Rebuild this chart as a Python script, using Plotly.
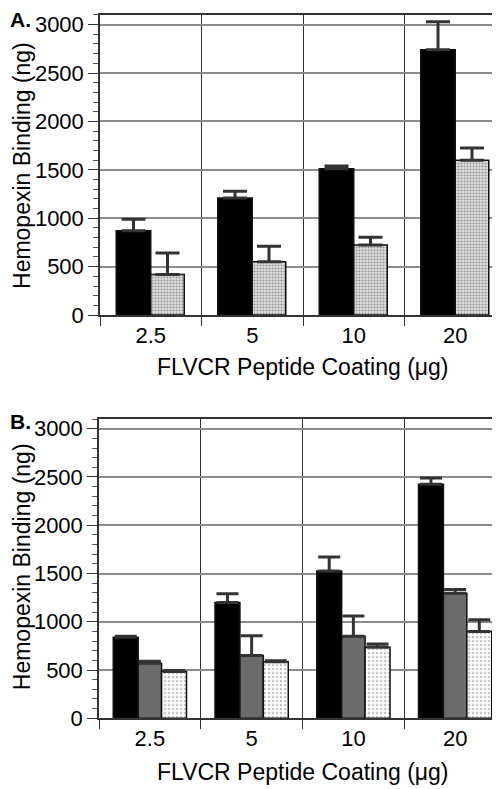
import plotly.graph_objects as go

categories = ["2.5", "5", "10", "20"]

# Panel A
a_black = [870, 1210, 1510, 2740]
a_black_err = [120, 70, 30, 290]
a_dotted = [420, 550, 725, 1600]
a_dotted_err = [220, 160, 80, 125]

# Panel B
b_black = [840, 1200, 1525, 2425]
b_black_err = [10, 90, 145, 65]
b_gray = [570, 650, 850, 1295]
b_gray_err = [20, 205, 210, 40]
b_dotted = [485, 585, 735, 900]
b_dotted_err = [10, 10, 35, 120]

W, H = 500, 789
FONT = "Liberation Sans, Arial, sans-serif"

def py(px):
    return 1 - px / H

def err(arr, w=12):
    return dict(type="data", array=arr, arrayminus=[0] * len(arr), symmetric=False,
                color="#333333", thickness=3, width=w, visible=True)

fig = go.Figure()

line = dict(color="#111111", width=1.5)

# Panel A traces
fig.add_trace(go.Bar(x=categories, y=a_black, width=0.34, offset=-0.34,
                     marker=dict(color="black", line=line), error_y=err(a_black_err),
                     xaxis="x", yaxis="y", showlegend=False))
fig.add_trace(go.Bar(x=categories, y=a_dotted, width=0.33, offset=0.0,
                     marker=dict(color="#d9d9d9", line=line,
                                 pattern=dict(shape=".", fgcolor="#3a3a3a", bgcolor="#e4e4e4",
                                              size=3, solidity=0.4)),
                     error_y=err(a_dotted_err), xaxis="x", yaxis="y", showlegend=False))

# Panel B traces
fig.add_trace(go.Bar(x=categories, y=b_black, width=0.245, offset=-0.36,
                     marker=dict(color="black", line=line), error_y=err(b_black_err, 11),
                     xaxis="x2", yaxis="y2", showlegend=False))
fig.add_trace(go.Bar(x=categories, y=b_gray, width=0.23, offset=-0.115,
                     marker=dict(color="#6b6b6b", line=line), error_y=err(b_gray_err, 11),
                     xaxis="x2", yaxis="y2", showlegend=False))
fig.add_trace(go.Bar(x=categories, y=b_dotted, width=0.245, offset=0.115,
                     marker=dict(color="white", line=line,
                                 pattern=dict(shape=".", fgcolor="#8a8a8a", bgcolor="white",
                                              size=4, solidity=0.3)),
                     error_y=err(b_dotted_err, 11),
                     xaxis="x2", yaxis="y2", showlegend=False))

xcommon = dict(type="category", tickson="boundaries", ticks="outside", ticklen=9,
               tickcolor="#333333", tickwidth=1.2, showgrid=True, gridcolor="#333333", gridwidth=1,
               showline=True, linecolor="#333333", linewidth=1.5, mirror=True,
               tickfont=dict(family=FONT, size=22, color="black"), range=[-0.5, 3.5])
ycommon = dict(range=[0, 3100], tickvals=[0, 500, 1000, 1500, 2000, 2500, 3000],
               ticks="outside", ticklen=10, tickcolor="#333333", tickwidth=1.2,
               minor=dict(dtick=100, ticks="outside", ticklen=5, tickcolor="#555555", showgrid=False),
               showgrid=True, gridcolor="#8c8c8c", gridwidth=1.5,
               showline=True, linecolor="#333333", linewidth=1.5, mirror=True,
               zeroline=False, tickfont=dict(family=FONT, size=22, color="black"))

fig.update_layout(
    width=W, height=H,
    margin=dict(l=0, r=0, t=0, b=0),
    paper_bgcolor="white", plot_bgcolor="white",
    barmode="overlay",
    xaxis=dict(xcommon, domain=[92 / W, 498 / W], anchor="y"),
    yaxis=dict(ycommon, domain=[py(311), py(5)], anchor="x"),
    xaxis2=dict(xcommon, domain=[91 / W, 498 / W], anchor="y2"),
    yaxis2=dict(ycommon, domain=[py(722), py(417)], anchor="x2"),
)

ann = []
tfont = dict(family=FONT, size=23, color="black")
lfont = dict(family=FONT, size=21, color="black", weight="bold")
ann.append(dict(text="A.", x=0, y=py(9.5), xref="paper", yref="paper", xanchor="left", yanchor="middle",
                showarrow=False, font=lfont))
ann.append(dict(text="B.", x=0, y=py(419.5), xref="paper", yref="paper", xanchor="left", yanchor="middle",
                showarrow=False, font=lfont))
ann.append(dict(text="FLVCR Peptide Coating (\u03bcg)", x=(92 + 498) / 2 / W, y=py(364), xref="paper", yref="paper",
                xanchor="center", yanchor="middle", showarrow=False, font=tfont))
ann.append(dict(text="FLVCR Peptide Coating (\u03bcg)", x=(91 + 498) / 2 / W, y=py(777), xref="paper", yref="paper",
                xanchor="center", yanchor="middle", showarrow=False, font=tfont))
ann.append(dict(text="Hemopexin Binding (ng)", x=14 / W, y=py(159), xref="paper", yref="paper",
                xanchor="center", yanchor="middle", textangle=-90, showarrow=False, font=tfont))
ann.append(dict(text="Hemopexin Binding (ng)", x=14 / W, y=py(568), xref="paper", yref="paper",
                xanchor="center", yanchor="middle", textangle=-90, showarrow=False, font=tfont))
fig.update_layout(annotations=ann)

fig.write_html("out.html")
